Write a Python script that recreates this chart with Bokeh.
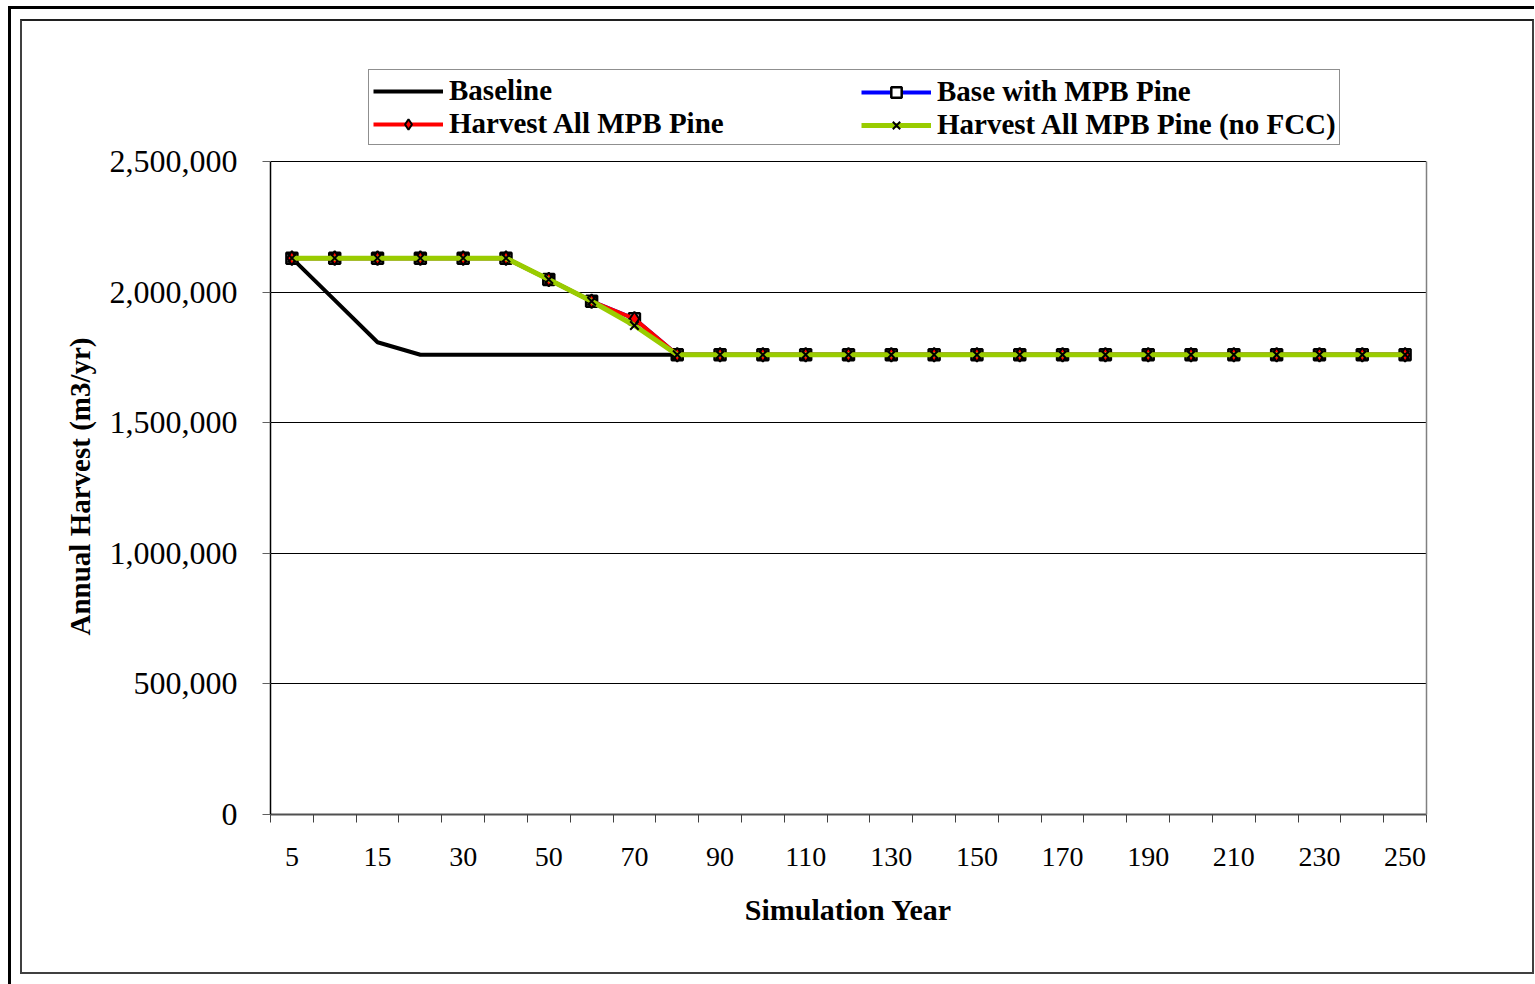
from bokeh.plotting import figure
from bokeh.layouts import column
from bokeh.models import (Range1d, FixedTicker, NumeralTickFormatter, Legend, LegendItem,
                          LinearAxis, Title)
from bokeh.embed import file_html
from bokeh.resources import INLINE

# ---- data ----
years = [5, 10, 15, 20, 30, 40, 50, 60, 70, 80, 90, 100, 110, 120, 130, 140,
         150, 160, 170, 180, 190, 200, 210, 220, 230, 240, 250]
baseline = [2130000, 1969000, 1808000, 1760000] + [1760000] * 23
base_mpb = [2130000] * 6 + [2048000, 1965000, 1898000] + [1760000] * 18
harvest_all = [2130000] * 6 + [2048000, 1965000, 1898000] + [1760000] * 18
harvest_nofcc = [2130000] * 6 + [2048000, 1965000, 1872000] + [1760000] * 18
series_names = ["Baseline", "Base with MPB Pine", "Harvest All MPB Pine",
                "Harvest All MPB Pine (no FCC)"]
y_ticks = [0, 500000, 1000000, 1500000, 2000000, 2500000]
y_max = 2500000
y_title = "Annual Harvest (m3/yr)"
x_title = "Simulation Year"

xpos = [i + 0.5 for i in range(len(years))]
boundaries = list(range(len(years) + 1))

FONT = "Liberation Serif"

# layout: frame is extended upward so the legend (which sits above the
# value area) is not clipped; the value area itself spans 0..y_max.
AREA_PX = 653          # pixel height of 0..y_max
EXTRA_PX = 101         # room above the value area for the legend
y_top = y_max * (AREA_PX + EXTRA_PX) / AREA_PX

p = figure(width=1514, height=955, output_backend="svg", toolbar_location=None,
           x_range=Range1d(0, len(years)), y_range=Range1d(0, y_top),
           min_border_left=248, min_border_right=110, min_border_top=39,
           min_border_bottom=162, margin=(10, 0, 0, 9),
           styles={"border": "2px solid #404040", "border-top": "2px solid #202020"})
p.background_fill_color = "white"
p.border_fill_color = "white"
p.outline_line_color = None

# lines
r_base = p.line(xpos, baseline, line_color="black", line_width=4)
r_mpb = p.line(xpos, base_mpb, line_color="#0000FF", line_width=4)
r_mpb_m = p.scatter(xpos, base_mpb, marker="square", size=11, fill_color="white",
                    line_color="black", line_width=2.5)
r_ha = p.line(xpos, harvest_all, line_color="#FF0000", line_width=4)
r_ha_m = p.scatter(xpos, harvest_all, marker="diamond", size=14, fill_color="#FF0000",
                   line_color="black", line_width=2)
r_nf = p.line(xpos, harvest_nofcc, line_color="#99CC00", line_width=5)
r_nf_m = p.scatter(xpos, harvest_nofcc, marker="x", size=12, line_color="black",
                   line_width=2)

# axes
p.xgrid.grid_line_color = None
p.ygrid.grid_line_color = "black"
p.ygrid.grid_line_width = 1
p.yaxis.bounds = (0, y_max)
p.yaxis.ticker = FixedTicker(ticks=y_ticks)
p.yaxis.formatter = NumeralTickFormatter(format="0,0")
p.yaxis.major_label_text_font = FONT
p.yaxis.major_label_text_font_size = "32px"
p.yaxis.major_label_text_color = "black"
p.yaxis.major_tick_out = 8
p.yaxis.major_tick_in = 0
p.yaxis.minor_tick_line_color = None
p.yaxis.major_label_standoff = 25
p.yaxis.axis_line_color = "black"
p.yaxis.axis_line_width = 1.5
p.yaxis.major_tick_line_color = "#606060"

# y title centred on the value area (0..y_max), not on the extended frame
ytitle = Title(text=y_title, align="left", offset=179, text_font=FONT,
               text_font_size="29px", text_font_style="bold", text_color="black",
               standoff=21)
p.add_layout(ytitle, "left")

# right edge of the value area
right_axis = LinearAxis(bounds=(0, y_max), ticker=FixedTicker(ticks=[]),
                        major_tick_line_color=None, minor_tick_line_color=None,
                        major_label_text_font_size="0px", axis_line_color="#808080",
                        axis_line_width=1.5)
p.add_layout(right_axis, "right")

p.xaxis.ticker = FixedTicker(ticks=xpos[::2], minor_ticks=boundaries)
p.xaxis.major_label_overrides = {xpos[i]: str(years[i]) for i in range(0, len(years), 2)}
p.xaxis.major_tick_out = 0
p.xaxis.major_tick_in = 0
p.xaxis.minor_tick_out = 8
p.xaxis.minor_tick_in = 0
p.xaxis.minor_tick_line_color = "#404040"
p.xaxis.axis_line_color = "#505050"
p.xaxis.axis_line_width = 2
p.xaxis.major_label_text_font = FONT
p.xaxis.major_label_text_font_size = "28px"
p.xaxis.major_label_text_color = "black"
p.xaxis.major_label_standoff = 25
p.xaxis.axis_label = x_title
p.xaxis.axis_label_text_font = FONT
p.xaxis.axis_label_text_font_size = "30px"
p.xaxis.axis_label_text_font_style = "bold"
p.xaxis.axis_label_text_color = "black"
p.xaxis.axis_label_standoff = 24

def style_legend(lg):
    lg.label_text_font = FONT
    lg.label_text_font_size = "29px"
    lg.label_text_font_style = "bold"
    lg.label_text_color = "black"
    lg.glyph_width = 70
    lg.glyph_height = 26
    lg.label_height = 26
    lg.label_standoff = 6
    lg.padding = 4
    lg.spacing = -3
    lg.margin = 0

leg1 = Legend(items=[LegendItem(label=series_names[0], renderers=[r_base]),
                     LegendItem(label=series_names[2], renderers=[r_ha, r_ha_m])],
              location=(98, 669))
style_legend(leg1)
leg1.label_width = 886
leg1.border_line_color = "#202020"
leg1.border_line_width = 1.5
leg1.background_fill_color = "white"
leg1.background_fill_alpha = 1

leg2 = Legend(items=[LegendItem(label=series_names[1], renderers=[r_mpb, r_mpb_m]),
                     LegendItem(label=series_names[3], renderers=[r_nf, r_nf_m])],
              location=(587, 669))
style_legend(leg2)
leg2.border_line_alpha = 0
leg2.background_fill_alpha = 0

p.add_layout(leg1, "center")
p.add_layout(leg2, "center")

outer = column(p, margin=(6, 0, 0, 8),
               styles={"border-top": "3px solid black", "border-left": "3px solid black",
                       "padding-bottom": "20px"})

open("out.html", "w").write(file_html(outer, INLINE))
